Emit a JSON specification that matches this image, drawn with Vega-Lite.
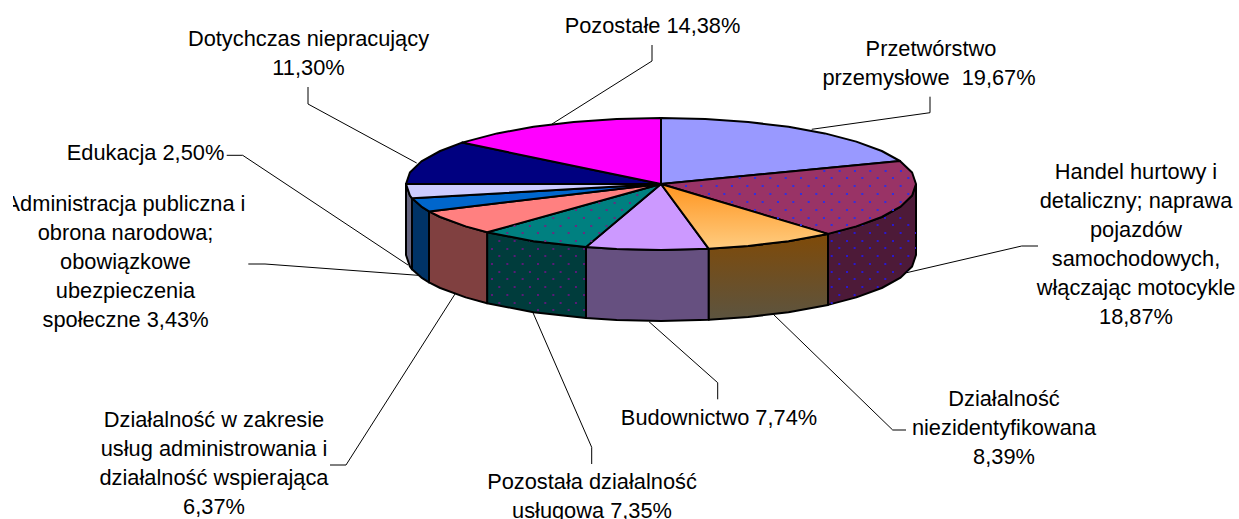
{
"$schema":"https://vega.github.io/schema/vega-lite/v6.json",
"width":1239,"height":519,"padding":0,"autosize":{"type":"none"},
"background":"white","view":{"stroke":null},
"datasets":{
"polys":[
{"k":"purple-side","o":0,"x":916,"y":184},{"k":"purple-side","o":1,"x":912.1,"y":195.5},{"k":"purple-side","o":2,"x":900.6,"y":206.6},{"k":"purple-side","o":3,"x":881.8,"y":217},{"k":"purple-side","o":4,"x":856.3,"y":226.4},{"k":"purple-side","o":5,"x":828,"y":233.9},{"k":"purple-side","o":6,"x":828,"y":304.9},{"k":"purple-side","o":7,"x":856.3,"y":297.4},{"k":"purple-side","o":8,"x":881.8,"y":288},{"k":"purple-side","o":9,"x":900.6,"y":277.6},{"k":"purple-side","o":10,"x":912.1,"y":266.5},{"k":"purple-side","o":11,"x":916,"y":255},{"k":"purple-side","o":12,"x":916,"y":184},
{"k":"orange-side","o":0,"x":828,"y":233.9},{"k":"orange-side","o":1,"x":788.5,"y":241.2},{"k":"orange-side","o":2,"x":748.2,"y":246},{"k":"orange-side","o":3,"x":708.8,"y":248.8},{"k":"orange-side","o":4,"x":708.8,"y":319.8},{"k":"orange-side","o":5,"x":748.2,"y":317},{"k":"orange-side","o":6,"x":788.5,"y":312.2},{"k":"orange-side","o":7,"x":828,"y":304.9},{"k":"orange-side","o":8,"x":828,"y":233.9},
{"k":"lilac-side","o":0,"x":708.8,"y":248.8},{"k":"lilac-side","o":1,"x":661,"y":250},{"k":"lilac-side","o":2,"x":616.7,"y":249},{"k":"lilac-side","o":3,"x":586,"y":247.1},{"k":"lilac-side","o":4,"x":586,"y":318.1},{"k":"lilac-side","o":5,"x":616.7,"y":320},{"k":"lilac-side","o":6,"x":661,"y":321},{"k":"lilac-side","o":7,"x":708.8,"y":319.8},{"k":"lilac-side","o":8,"x":708.8,"y":248.8},
{"k":"teal-side","o":0,"x":586,"y":247.1},{"k":"teal-side","o":1,"x":533.5,"y":241.2},{"k":"teal-side","o":2,"x":487.1,"y":232.3},{"k":"teal-side","o":3,"x":487.1,"y":303.3},{"k":"teal-side","o":4,"x":533.5,"y":312.2},{"k":"teal-side","o":5,"x":586,"y":318.1},{"k":"teal-side","o":6,"x":586,"y":247.1},
{"k":"salmon-side","o":0,"x":487.1,"y":232.3},{"k":"salmon-side","o":1,"x":465.7,"y":226.4},{"k":"salmon-side","o":2,"x":440.2,"y":217},{"k":"salmon-side","o":3,"x":429,"y":211.4},{"k":"salmon-side","o":4,"x":429,"y":282.4},{"k":"salmon-side","o":5,"x":440.2,"y":288},{"k":"salmon-side","o":6,"x":465.7,"y":297.4},{"k":"salmon-side","o":7,"x":487.1,"y":303.3},{"k":"salmon-side","o":8,"x":487.1,"y":232.3},
{"k":"blue-side","o":0,"x":429,"y":211.4},{"k":"blue-side","o":1,"x":421.4,"y":206.6},{"k":"blue-side","o":2,"x":412,"y":198.3},{"k":"blue-side","o":3,"x":412,"y":269.3},{"k":"blue-side","o":4,"x":421.4,"y":277.6},{"k":"blue-side","o":5,"x":429,"y":282.4},{"k":"blue-side","o":6,"x":429,"y":211.4},
{"k":"lav-side","o":0,"x":412,"y":198.3},{"k":"lav-side","o":1,"x":409.9,"y":195.5},{"k":"lav-side","o":2,"x":406,"y":184},{"k":"lav-side","o":3,"x":406,"y":255},{"k":"lav-side","o":4,"x":409.9,"y":266.5},{"k":"lav-side","o":5,"x":412,"y":269.3},{"k":"lav-side","o":6,"x":412,"y":198.3},
{"k":"peri-top","o":0,"x":661,"y":184},{"k":"peri-top","o":1,"x":661,"y":118},{"k":"peri-top","o":2,"x":705.3,"y":119},{"k":"peri-top","o":3,"x":748.2,"y":122},{"k":"peri-top","o":4,"x":788.5,"y":126.8},{"k":"peri-top","o":5,"x":824.9,"y":133.4},{"k":"peri-top","o":6,"x":856.3,"y":141.6},{"k":"peri-top","o":7,"x":881.8,"y":151},{"k":"peri-top","o":8,"x":900,"y":161},{"k":"peri-top","o":9,"x":661,"y":184},
{"k":"purple-top","o":0,"x":661,"y":184},{"k":"purple-top","o":1,"x":900,"y":161},{"k":"purple-top","o":2,"x":912.1,"y":172.5},{"k":"purple-top","o":3,"x":916,"y":184},{"k":"purple-top","o":4,"x":912.1,"y":195.5},{"k":"purple-top","o":5,"x":900.6,"y":206.6},{"k":"purple-top","o":6,"x":881.8,"y":217},{"k":"purple-top","o":7,"x":856.3,"y":226.4},{"k":"purple-top","o":8,"x":828,"y":233.9},{"k":"purple-top","o":9,"x":661,"y":184},
{"k":"orange-top","o":0,"x":661,"y":184},{"k":"orange-top","o":1,"x":828,"y":233.9},{"k":"orange-top","o":2,"x":788.5,"y":241.2},{"k":"orange-top","o":3,"x":748.2,"y":246},{"k":"orange-top","o":4,"x":708.8,"y":248.8},{"k":"orange-top","o":5,"x":661,"y":184},
{"k":"lilac-top","o":0,"x":661,"y":184},{"k":"lilac-top","o":1,"x":708.8,"y":248.8},{"k":"lilac-top","o":2,"x":661,"y":250},{"k":"lilac-top","o":3,"x":616.7,"y":249},{"k":"lilac-top","o":4,"x":586,"y":247.1},{"k":"lilac-top","o":5,"x":661,"y":184},
{"k":"teal-top","o":0,"x":661,"y":184},{"k":"teal-top","o":1,"x":586,"y":247.1},{"k":"teal-top","o":2,"x":533.5,"y":241.2},{"k":"teal-top","o":3,"x":487.1,"y":232.3},{"k":"teal-top","o":4,"x":661,"y":184},
{"k":"salmon-top","o":0,"x":661,"y":184},{"k":"salmon-top","o":1,"x":487.1,"y":232.3},{"k":"salmon-top","o":2,"x":465.7,"y":226.4},{"k":"salmon-top","o":3,"x":440.2,"y":217},{"k":"salmon-top","o":4,"x":429,"y":211.4},{"k":"salmon-top","o":5,"x":661,"y":184},
{"k":"blue-top","o":0,"x":661,"y":184},{"k":"blue-top","o":1,"x":429,"y":211.4},{"k":"blue-top","o":2,"x":421.4,"y":206.6},{"k":"blue-top","o":3,"x":412,"y":198.3},{"k":"blue-top","o":4,"x":661,"y":184},
{"k":"lav-top","o":0,"x":661,"y":184},{"k":"lav-top","o":1,"x":412,"y":198.3},{"k":"lav-top","o":2,"x":409.9,"y":195.5},{"k":"lav-top","o":3,"x":406,"y":184},{"k":"lav-top","o":4,"x":661,"y":184},
{"k":"navy-top","o":0,"x":661,"y":184},{"k":"navy-top","o":1,"x":406,"y":184},{"k":"navy-top","o":2,"x":409.9,"y":172.5},{"k":"navy-top","o":3,"x":421.4,"y":161.4},{"k":"navy-top","o":4,"x":440.2,"y":151},{"k":"navy-top","o":5,"x":462,"y":142.6},{"k":"navy-top","o":6,"x":661,"y":184},
{"k":"magenta-top","o":0,"x":661,"y":184},{"k":"magenta-top","o":1,"x":462,"y":142.6},{"k":"magenta-top","o":2,"x":497.1,"y":133.4},{"k":"magenta-top","o":3,"x":533.5,"y":126.8},{"k":"magenta-top","o":4,"x":573.8,"y":122},{"k":"magenta-top","o":5,"x":616.7,"y":119},{"k":"magenta-top","o":6,"x":661,"y":118},{"k":"magenta-top","o":7,"x":661,"y":184}
],
"dots":[
{"p":"side-purple","a":884,"b":914,"y":218},{"p":"side-purple","a":861.3,"b":916,"y":225},{"p":"side-purple","a":838.3,"b":916,"y":233},{"p":"side-purple","a":830.7,"b":916,"y":241},{"p":"side-purple","a":838.3,"b":916,"y":248},{"p":"side-purple","a":830.7,"b":916,"y":256},{"p":"side-purple","a":838.3,"b":913.7,"y":264},{"p":"side-purple","a":830.7,"b":907.7,"y":272},{"p":"side-purple","a":838.3,"b":898,"y":279},{"p":"side-purple","a":830.7,"b":884,"y":287},{"p":"side-purple","a":838.3,"b":864,"y":295},{"p":"side-purple","a":830.7,"b":837,"y":303},
{"p":"side-teal","a":498.3,"b":530,"y":241},{"p":"side-teal","a":491,"b":586,"y":249},{"p":"side-teal","a":498.3,"b":586,"y":256},{"p":"side-teal","a":491,"b":586,"y":264},{"p":"side-teal","a":498.3,"b":586,"y":272},{"p":"side-teal","a":491,"b":586,"y":279},{"p":"side-teal","a":498.3,"b":586,"y":287},{"p":"side-teal","a":491,"b":586,"y":295},{"p":"side-teal","a":498.3,"b":586,"y":303},{"p":"side-teal","a":537,"b":586,"y":310},
{"p":"top-purple","a":823.3,"b":905,"y":171},{"p":"top-purple","a":738.7,"b":912,"y":178},{"p":"top-purple","a":685,"b":910,"y":186},{"p":"top-purple","a":708,"b":913,"y":194},{"p":"top-purple","a":731,"b":906,"y":202},{"p":"top-purple","a":754,"b":895,"y":210},{"p":"top-purple","a":777,"b":880,"y":218},{"p":"top-purple","a":800,"b":860,"y":225},
{"p":"top-teal","a":636.3,"b":648,"y":195},{"p":"top-teal","a":598.3,"b":639,"y":203},{"p":"top-teal","a":575,"b":630,"y":210},{"p":"top-teal","a":552.3,"b":621,"y":218},{"p":"top-teal","a":513.6,"b":611,"y":226},{"p":"top-teal","a":506.3,"b":602,"y":233},{"p":"top-teal","a":544.3,"b":593,"y":241}
],
"leaders":[
{"l":"Pozostałe","o":0,"x":652,"y":45},{"l":"Pozostałe","o":1,"x":652,"y":61},{"l":"Pozostałe","o":2,"x":552,"y":124},
{"l":"Przetwórstwo","o":0,"x":930,"y":96.7},{"l":"Przetwórstwo","o":1,"x":930,"y":112.7},{"l":"Przetwórstwo","o":2,"x":811.7,"y":129.3},
{"l":"Handel","o":0,"x":1038,"y":246},{"l":"Handel","o":1,"x":1021.7,"y":246},{"l":"Handel","o":2,"x":906.7,"y":272.7},
{"l":"Niezidentyfikowana","o":0,"x":906,"y":430},{"l":"Niezidentyfikowana","o":1,"x":892.7,"y":430},{"l":"Niezidentyfikowana","o":2,"x":773,"y":314},
{"l":"Budownictwo","o":0,"x":717.7,"y":399.3},{"l":"Budownictwo","o":1,"x":717.7,"y":382.7},{"l":"Budownictwo","o":2,"x":649,"y":321.7},
{"l":"Usługowa","o":0,"x":591.7,"y":464},{"l":"Usługowa","o":1,"x":591.7,"y":447.3},{"l":"Usługowa","o":2,"x":533,"y":312.7},
{"l":"Administrowanie","o":0,"x":330,"y":465},{"l":"Administrowanie","o":1,"x":346,"y":465},{"l":"Administrowanie","o":2,"x":455,"y":294},
{"l":"Administracja","o":0,"x":248.3,"y":264},{"l":"Administracja","o":1,"x":265,"y":264},{"l":"Administracja","o":2,"x":418,"y":275.3},
{"l":"Edukacja","o":0,"x":226.7,"y":155.3},{"l":"Edukacja","o":1,"x":242.7,"y":155.3},{"l":"Edukacja","o":2,"x":408,"y":265},
{"l":"Dotychczas","o":0,"x":308,"y":87},{"l":"Dotychczas","o":1,"x":308,"y":104},{"l":"Dotychczas","o":2,"x":416.7,"y":163}
],
"labels":[
{"t":"Pozostałe 14,38%","x":652.5,"y":26},
{"t":"Przetwórstwo","x":931,"y":49},{"t":"przemysłowe\u00a0 19,67%","x":929,"y":78},
{"t":"Handel hurtowy i","x":1136,"y":172},{"t":"detaliczny; naprawa","x":1136,"y":201},{"t":"pojazdów","x":1136,"y":230},{"t":"samochodowych,","x":1136,"y":259},{"t":"włączając motocykle","x":1136,"y":288},{"t":"18,87%","x":1136,"y":317},
{"t":"Działalność","x":1004,"y":399},{"t":"niezidentyfikowana","x":1004,"y":428},{"t":"8,39%","x":1004,"y":457},
{"t":"Budownictwo 7,74%","x":719,"y":418},
{"t":"Pozostała działalność","x":592,"y":482},{"t":"usługowa 7,35%","x":592,"y":511},
{"t":"Działalność w zakresie","x":214,"y":420},{"t":"usług administrowania i","x":214,"y":449},{"t":"działalność wspierająca","x":214,"y":478},{"t":"6,37%","x":214,"y":507},
{"t":"Administracja publiczna i","x":125.5,"y":204},{"t":"obrona narodowa;","x":125.5,"y":233},{"t":"obowiązkowe","x":125.5,"y":262},{"t":"ubezpieczenia","x":125.5,"y":291},{"t":"społeczne 3,43%","x":125.5,"y":320},
{"t":"Edukacja 2,50%","x":145.5,"y":153},
{"t":"Dotychczas niepracujący","x":308.5,"y":39},{"t":"11,30%","x":308.5,"y":68}
]
},
"encoding":{
"x":{"field":"x","type":"quantitative","scale":{"domain":[0,1239],"nice":false,"zero":false},"axis":null},
"y":{"field":"y","type":"quantitative","scale":{"domain":[519,0],"nice":false,"zero":false},"axis":null}
},
"resolve":{"scale":{"fill":"independent","color":"independent"}},
"layer":[
{"data":{"name":"polys"},"transform":[{"filter":"indexof(datum.k,'-side')>0 && datum.k!='orange-side'"}],
 "mark":{"type":"line","stroke":"#000","strokeWidth":2,"strokeJoin":"round","interpolate":"linear"},
 "encoding":{"order":{"field":"o"},"fill":{"field":"k","type":"nominal","legend":null,"scale":{"domain":["purple-side","lilac-side","teal-side","salmon-side","blue-side","lav-side"],"range":["#4d1a38","#665080","#003c3c","#804040","#003366","#666680"]}}}},
{"data":{"name":"polys"},"transform":[{"filter":"datum.k=='orange-side'"}],
 "mark":{"type":"line","stroke":"#000","strokeWidth":2,"strokeJoin":"round","fill":{"gradient":"linear","x1":0,"y1":0,"x2":0,"y2":1,"stops":[{"offset":0,"color":"#7f4a08"},{"offset":1,"color":"#5c5440"}]}},
 "encoding":{"order":{"field":"o"},"detail":{"field":"k"}}},
{"data":{"name":"dots"},"transform":[{"filter":"indexof(datum.p,'side')==0"}],
 "mark":{"type":"rule","strokeWidth":2,"strokeDash":[2,13.33]},
 "encoding":{"x":{"field":"a","type":"quantitative"},"x2":{"field":"b"},"y":{"field":"y","type":"quantitative"},
  "color":{"field":"p","type":"nominal","legend":null,"scale":{"domain":["side-purple","side-teal"],"range":["#2a18d0","#5a1a78"]}}}},
{"data":{"name":"polys"},"transform":[{"filter":"indexof(datum.k,'-top')>0 && datum.k!='orange-top'"}],
 "mark":{"type":"line","stroke":"#000","strokeWidth":2,"strokeJoin":"round"},
 "encoding":{"order":{"field":"o"},"fill":{"field":"k","type":"nominal","legend":null,"scale":{"domain":["peri-top","purple-top","lilac-top","teal-top","salmon-top","blue-top","lav-top","navy-top","magenta-top"],"range":["#9999ff","#993366","#cc99ff","#008080","#ff8080","#0066cc","#ccccff","#000080","#ff00ff"]}}}},
{"data":{"name":"polys"},"transform":[{"filter":"datum.k=='orange-top'"}],
 "mark":{"type":"line","stroke":"#000","strokeWidth":2,"strokeJoin":"round","fill":{"gradient":"linear","x1":0,"y1":0,"x2":0,"y2":1,"stops":[{"offset":0,"color":"#ff9520"},{"offset":1,"color":"#ffcc80"}]}},
 "encoding":{"order":{"field":"o"},"detail":{"field":"k"}}},
{"data":{"name":"dots"},"transform":[{"filter":"indexof(datum.p,'top')==0"}],
 "mark":{"type":"rule","strokeWidth":2,"strokeDash":[2,13.33]},
 "encoding":{"x":{"field":"a","type":"quantitative"},"x2":{"field":"b"},"y":{"field":"y","type":"quantitative"},
  "color":{"field":"p","type":"nominal","legend":null,"scale":{"domain":["top-purple","top-teal"],"range":["#3030e0","#6a2a80"]}}}},
{"data":{"name":"leaders"},
 "mark":{"type":"line","stroke":"#000","strokeWidth":1},
 "encoding":{"order":{"field":"o"},"detail":{"field":"l"}}},
{"data":{"name":"labels"},
 "mark":{"type":"text","font":"Liberation Sans","fontSize":21.8,"align":"center","baseline":"middle","color":"#000"},
 "encoding":{"text":{"field":"t"}}},
{"data":{"values":[{"a":0,"b":13,"c":190,"d":220}]},
 "mark":{"type":"rect","color":"white"},
 "encoding":{"x":{"field":"a","type":"quantitative"},"x2":{"field":"b"},"y":{"field":"c","type":"quantitative"},"y2":{"field":"d"}}}
]
}
